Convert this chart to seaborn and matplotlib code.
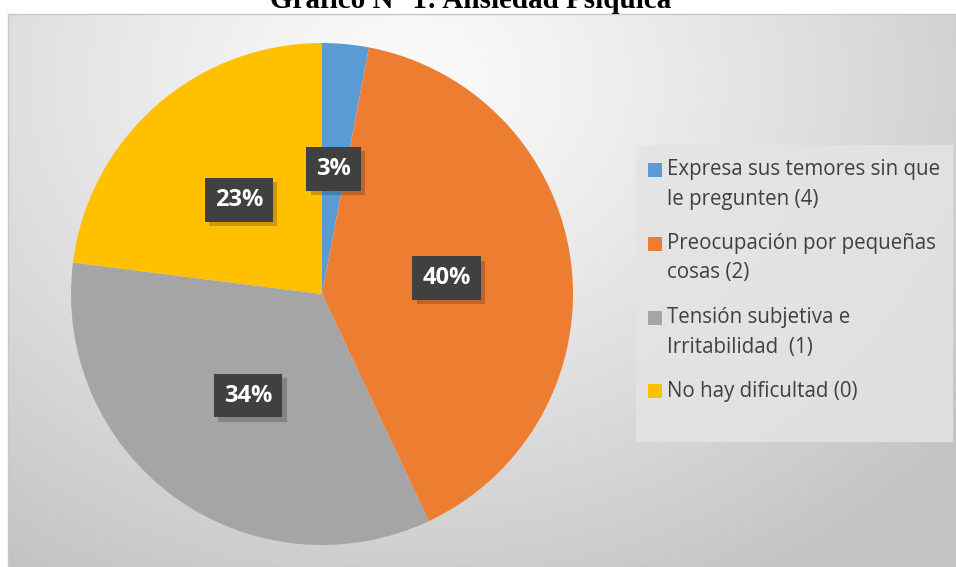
import numpy as np
import matplotlib
matplotlib.use("Agg")
import matplotlib.pyplot as plt
import matplotlib.patheffects as pe
from matplotlib.patches import Rectangle
import seaborn as sns

# Chart data
title = "Gráfico N° 1: Ansiedad Psíquica"
categories = [
    "Expresa sus temores sin que\nle pregunten (4)",
    "Preocupación por pequeñas\ncosas (2)",
    "Tensión subjetiva e\nIrritabilidad  (1)",
    "No hay dificultad (0)",
]
percentages = [3, 40, 34, 23]
slice_colors = ["#5B9BD5", "#ED7D31", "#A5A5A5", "#FFC000"]

sns.set_style("white")
plt.rcParams["font.family"] = ["Open Sans", "DejaVu Sans"]
palette = sns.color_palette(slice_colors)

W, H = 956, 567
fig = plt.figure(figsize=(W / 100, H / 100), dpi=100)
fig.patch.set_facecolor("white")

def fx(px):
    return px / W

def fy(py):
    return 1 - py / H

# Chart area with soft radial shading
top = 14
left = 8
bg = fig.add_axes([fx(left), 0, 1 - fx(left), fy(top)])
ny, nx = 300, 500
yy, xx = np.mgrid[0:ny, 0:nx]
cx, cy = 0.42 * nx, 0.12 * ny
d = np.sqrt(((xx - cx) / (0.75 * nx)) ** 2 + ((yy - cy) / (1.05 * ny)) ** 2)
d = np.clip(d, 0, 1)
shade = 0.985 - 0.22 * d ** 1.2
bg.imshow(np.dstack([shade, shade, shade]), aspect="auto", extent=[0, 1, 0, 1], origin="upper")
bg.set_xticks([])
bg.set_yticks([])
for s in bg.spines.values():
    s.set_edgecolor("#c8c8c8")
    s.set_linewidth(1)
bg.set_zorder(0)

# Title, sitting at the very top edge
fig.text(fx(471), fy(8), title, ha="center", va="baseline",
         fontsize=21, fontweight="bold", family=["Liberation Serif", "DejaVu Serif"],
         color="black")

# Pie
cxp, cyp, R = 322, 294, 251
ax = fig.add_axes([fx(cxp - R), fy(cyp + R), 2 * R / W, 2 * R / H])
ax.set_zorder(2)
ax.patch.set_alpha(0)
wedges, _, autotexts = ax.pie(
    percentages,
    colors=palette,
    startangle=90,
    counterclock=False,
    radius=1,
    autopct=lambda p: f"{p:.0f}%",
    pctdistance=0.5,
    wedgeprops=dict(linewidth=0),
)
ax.set_xlim(-1, 1)
ax.set_ylim(-1, 1)
ax.set_aspect("equal")
ax.axis("off")

for t in autotexts:
    t.set_color("white")
    t.set_fontsize(17)
    t.set_fontweight("bold")
    t.set_bbox(dict(boxstyle="square,pad=0.42", facecolor="#404040", edgecolor="none"))
    t.get_bbox_patch().set_path_effects(
        [pe.SimplePatchShadow(offset=(3, -3), shadow_rgbFace="black", alpha=0.2), pe.Normal()]
    )

# Legend panel
lx0, ly0, lx1, ly1 = 636, 145, 953, 442
fig.patches.append(Rectangle((fx(lx0), fy(ly1)), fx(lx1 - lx0), (ly1 - ly0) / H,
                             transform=fig.transFigure, facecolor="#e4e4e4",
                             edgecolor="none", alpha=0.85, zorder=1))
entry_y = [170, 244, 318, 391]
sq = 14
for lab, col, y in zip(categories, palette, entry_y):
    fig.patches.append(Rectangle((fx(648), fy(y + sq / 2)), sq / W, sq / H,
                                 transform=fig.transFigure, facecolor=col,
                                 edgecolor="none", zorder=3))
    for k, line in enumerate(lab.split("\n")):
        fig.text(fx(667), fy(y + 29 * k), line, ha="left", va="center",
                 fontsize=14.8, color="#404040", zorder=3)

fig.savefig("out.png", dpi=100)
